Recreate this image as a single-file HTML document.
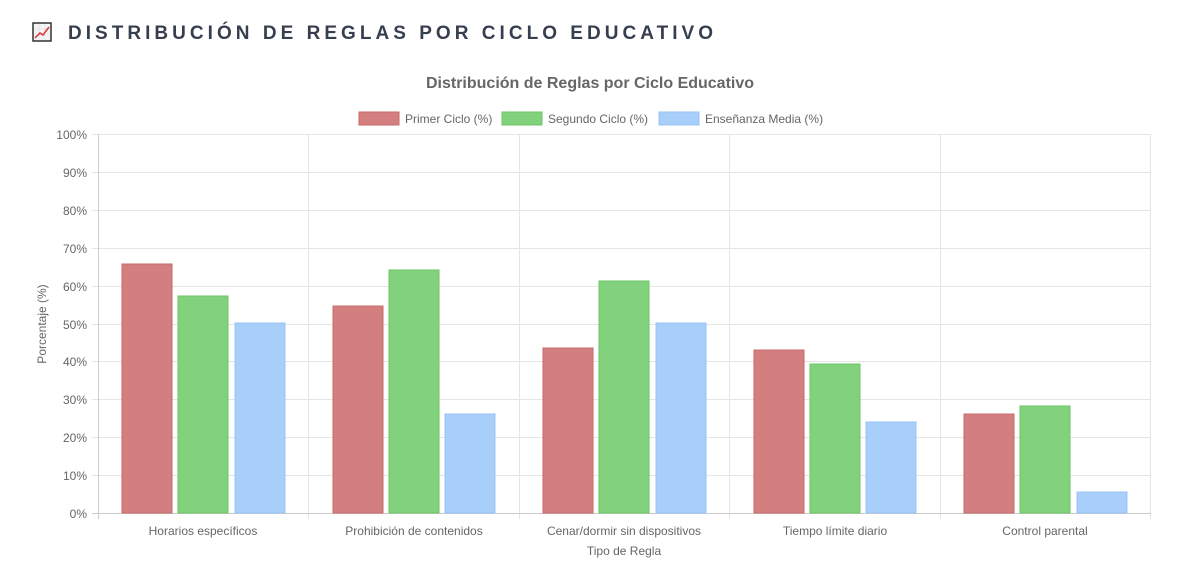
<!DOCTYPE html>
<html><head><meta charset="utf-8"><style>
body{margin:0;background:#fff;width:1179px;height:567px;overflow:hidden;font-family:"Liberation Sans",sans-serif}
</style></head><body>
<svg width="1179" height="567" xmlns="http://www.w3.org/2000/svg" font-family="Liberation Sans, sans-serif">
<rect x="33" y="23" width="18" height="18" fill="#f4f4f4" stroke="#333" stroke-width="1.5"/>
<g stroke="#ddd" stroke-width="0.6"><line x1="39" y1="24" x2="39" y2="40"/><line x1="45" y1="24" x2="45" y2="40"/><line x1="34" y1="29" x2="50" y2="29"/><line x1="34" y1="35" x2="50" y2="35"/></g>
<polyline points="35,38 40,33 43,35 49,27" fill="none" stroke="#d33" stroke-width="1.5"/>
<text x="68" y="39" font-size="19" font-weight="bold" fill="#363f4f" textLength="645" lengthAdjust="spacing">DISTRIBUCIÓN DE REGLAS POR CICLO EDUCATIVO</text>
<text x="590" y="88" font-size="16" font-weight="bold" fill="#666" text-anchor="middle">Distribución de Reglas por Ciclo Educativo</text>
<g font-size="12" fill="#666">
<rect x="359" y="112" width="40" height="13" fill="#d47f7f" stroke="#c96a6a"/><text x="405" y="123">Primer Ciclo (%)</text>
<rect x="502" y="112" width="40" height="13" fill="#82d17c" stroke="#6cc566"/><text x="548" y="123">Segundo Ciclo (%)</text>
<rect x="659" y="112" width="40" height="13" fill="#a8cefa" stroke="#9ac4f5"/><text x="705" y="123">Enseñanza Media (%)</text>
</g>
<g stroke="#e5e5e5" stroke-width="1">
<line x1="92" y1="134.5" x2="1151" y2="134.5"/><line x1="92" y1="172.5" x2="1151" y2="172.5"/><line x1="92" y1="210.5" x2="1151" y2="210.5"/><line x1="92" y1="248.5" x2="1151" y2="248.5"/><line x1="92" y1="286.5" x2="1151" y2="286.5"/><line x1="92" y1="324.5" x2="1151" y2="324.5"/><line x1="92" y1="361.5" x2="1151" y2="361.5"/><line x1="92" y1="399.5" x2="1151" y2="399.5"/><line x1="92" y1="437.5" x2="1151" y2="437.5"/><line x1="92" y1="475.5" x2="1151" y2="475.5"/>
<line x1="308.5" y1="134" x2="308.5" y2="519"/><line x1="519.5" y1="134" x2="519.5" y2="519"/><line x1="729.5" y1="134" x2="729.5" y2="519"/><line x1="940.5" y1="134" x2="940.5" y2="519"/><line x1="1150.5" y1="134" x2="1150.5" y2="519"/>
</g>
<line x1="98.5" y1="134" x2="98.5" y2="519" stroke="#ccc"/>
<line x1="92" y1="513.5" x2="1151" y2="513.5" stroke="#ccc"/>
<g font-size="12" fill="#666" text-anchor="end">
<text x="87" y="139">100%</text><text x="87" y="177">90%</text><text x="87" y="215">80%</text><text x="87" y="253">70%</text><text x="87" y="291">60%</text><text x="87" y="329">50%</text><text x="87" y="366">40%</text><text x="87" y="404">30%</text><text x="87" y="442">20%</text><text x="87" y="480">10%</text><text x="87" y="518">0%</text>
</g>
<text transform="translate(46,324) rotate(-90)" font-size="12" fill="#666" text-anchor="middle">Porcentaje (%)</text>
<g font-size="12" fill="#666" text-anchor="middle">
<text x="203" y="535">Horarios específicos</text><text x="414" y="535">Prohibición de contenidos</text><text x="624" y="535">Cenar/dormir sin dispositivos</text><text x="835" y="535">Tiempo límite diario</text><text x="1045" y="535">Control parental</text>
<text x="624" y="555">Tipo de Regla</text>
</g>
<g fill="#d47f7f" stroke="#c96a6a">
<rect x="122" y="264" width="50" height="249"/><rect x="333" y="306" width="50" height="207"/><rect x="543" y="348" width="50" height="165"/><rect x="754" y="350" width="50" height="163"/><rect x="964" y="414" width="50" height="99"/>
</g>
<g fill="#82d17c" stroke="#6cc566">
<rect x="178" y="296" width="50" height="217"/><rect x="389" y="270" width="50" height="243"/><rect x="599" y="281" width="50" height="232"/><rect x="810" y="364" width="50" height="149"/><rect x="1020" y="406" width="50" height="107"/>
</g>
<g fill="#a8cefa" stroke="#9ac4f5">
<rect x="235" y="323" width="50" height="190"/><rect x="445" y="414" width="50" height="99"/><rect x="656" y="323" width="50" height="190"/><rect x="866" y="422" width="50" height="91"/><rect x="1077" y="492" width="50" height="21"/>
</g>
</svg>
</body></html>
